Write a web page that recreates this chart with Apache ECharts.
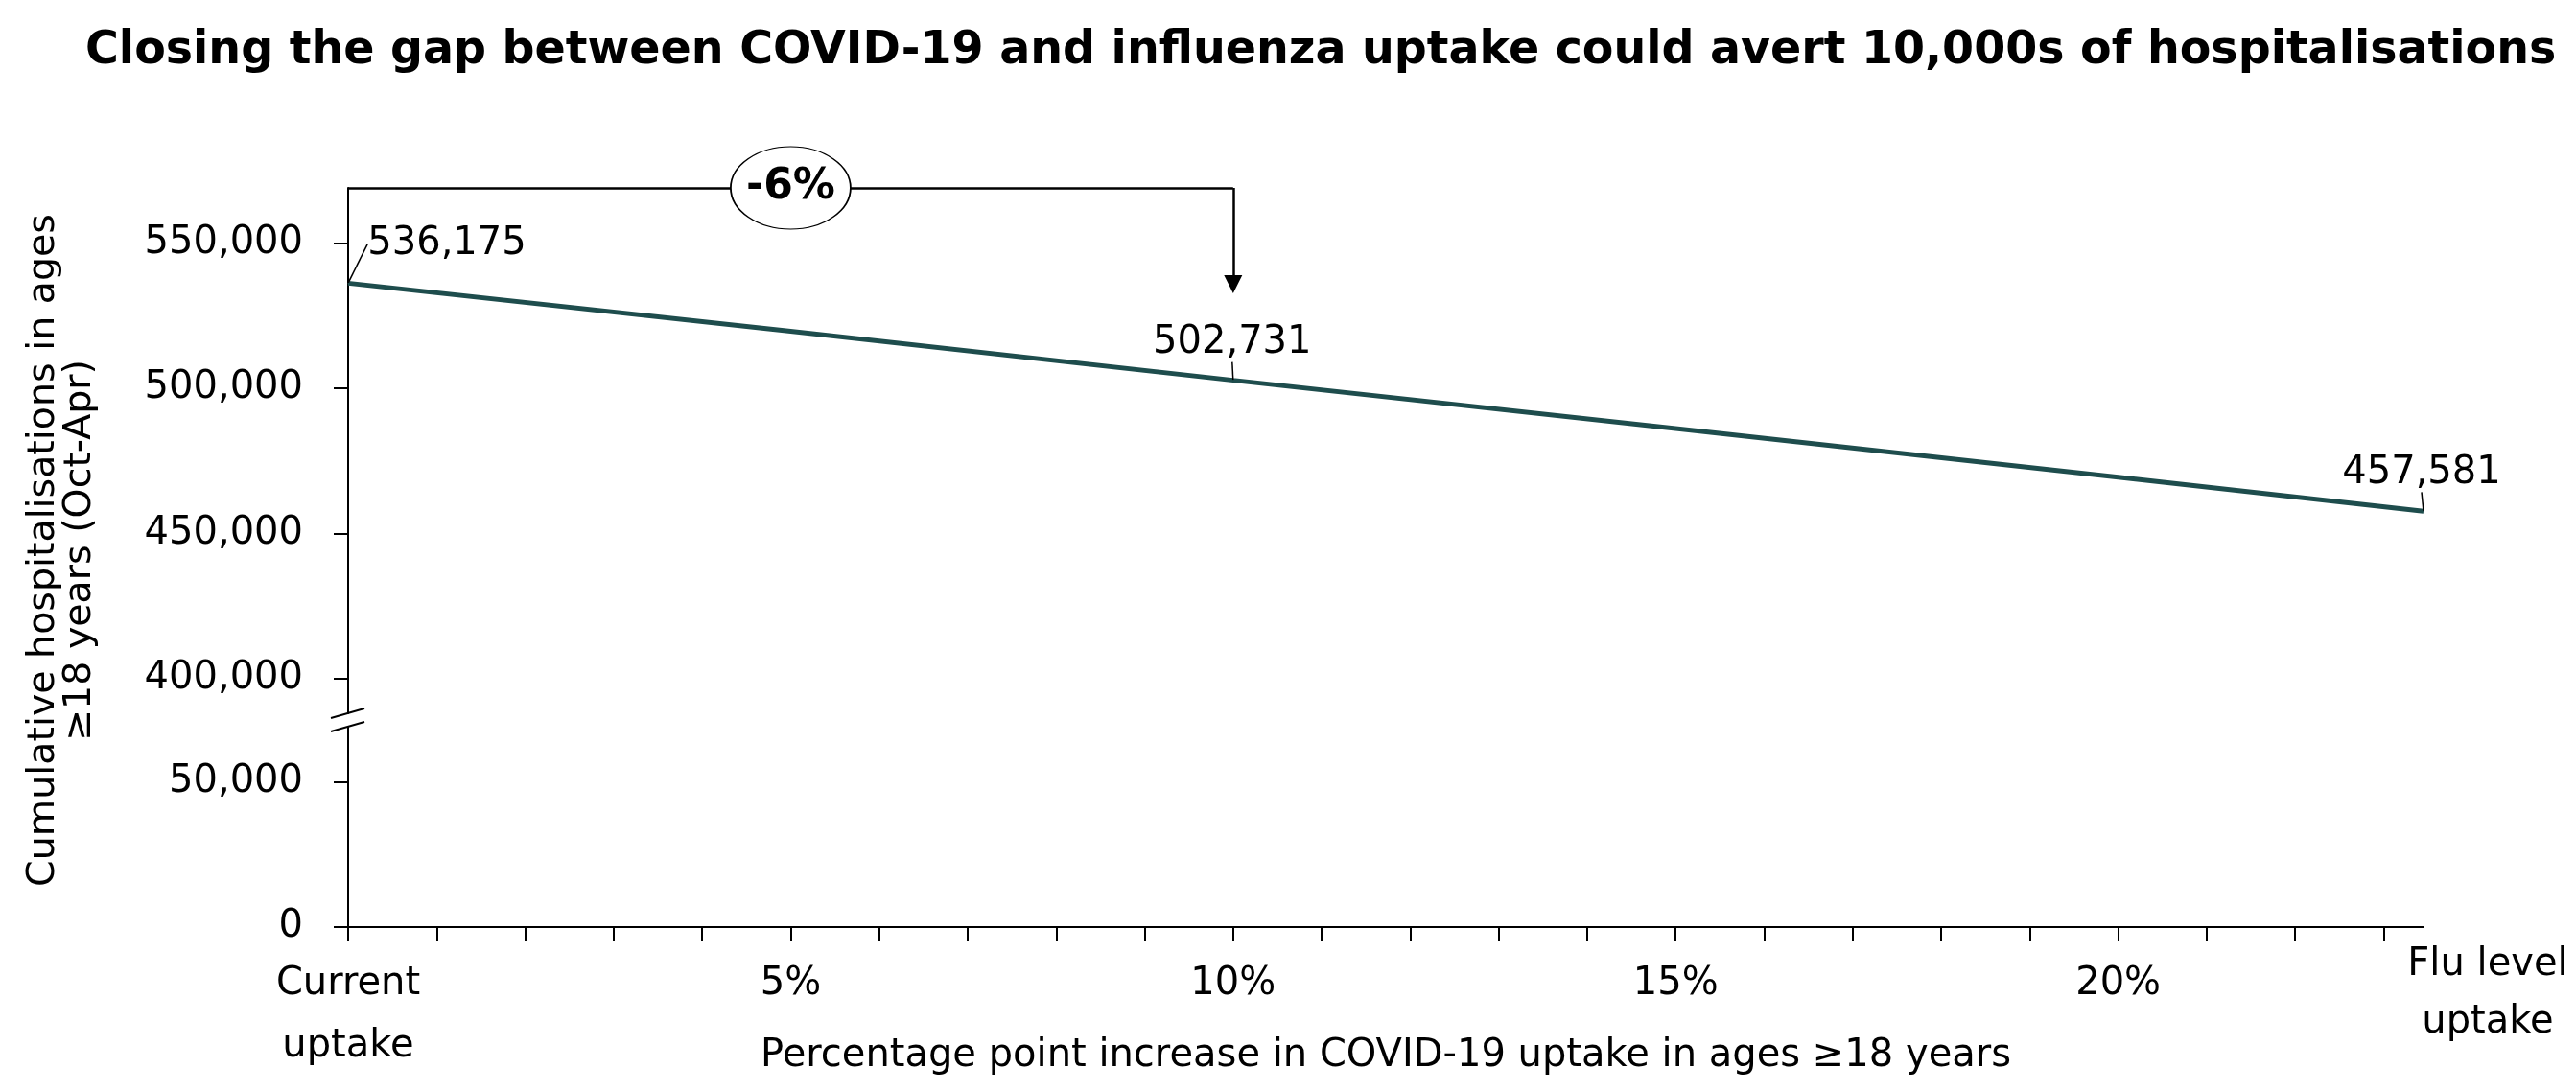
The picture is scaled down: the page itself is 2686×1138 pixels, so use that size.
<!DOCTYPE html>
<html><head><meta charset="utf-8">
<script src="https://cdn.jsdelivr.net/npm/echarts@6/dist/echarts.min.js"></script>
<style>html,body{margin:0;padding:0;background:#fff}#c{width:2686px;height:1138px}</style>
</head><body><div id="c"></div>
<script>
// ---- data ----
const titleText = 'Closing the gap between COVID-19 and influenza uptake could avert 10,000s of hospitalisations';
const yAxisTitle = ['Cumulative hospitalisations in ages', '\u226518 years (Oct-Apr)'];
const xAxisTitle = 'Percentage point increase in COVID-19 uptake in ages \u226518 years';
const uptakeIncrease = [0, 5, 10, 15, 20, 23.45];
const hospitalisations = [536175, 519600, 502731, 486100, 469300, 457581];
const labelledPoints = [0, 2, 5];
const xTickValues = [0,1,2,3,4,5,6,7,8,9,10,11,12,13,14,15,16,17,18,19,20,21,22,23];
const xLabelValues = [0, 5, 10, 15, 20];
const fluUptakeValue = 23.45;
const currentLabel = ['Current', 'uptake'];
const fluLabel = ['Flu level', 'uptake'];
const upperYTicks = [400000, 450000, 500000, 550000];
const lowerYTicks = [0, 50000];
const upperRange = [388000, 569000];
const lowerRange = [0, 69000];
const changeLabel = '-6%';
const bracketFrom = 0, bracketTo = 10, bracketMid = 5;
const arrowEndValue = 535800;

// ---- styles ----
const FONT = '"DejaVu Sans", sans-serif';
const LINE_COLOR = '#1e4d4d';
const GRID_LEFT = 363, GRID_RIGHT = 159;
const UP_TOP = 196, UP_H = 548, LO_TOP = 758, LO_H = 209;
const fmt = v => Math.round(v).toLocaleString('en-US');
const labelOffsets = {0: [103, -41], 2: [-1, -39], 5: [-2, -40]};

const chart = echarts.init(document.getElementById('c'), null, {renderer: 'canvas'});
const axisLineStyle = {color: '#000', width: 2};

chart.setOption({
  animation: false,
  backgroundColor: '#fff',
  title: {
    text: titleText, left: 89, top: 30, padding: 0,
    textStyle: {fontFamily: FONT, fontWeight: 'bold', fontSize: 47.5, color: '#000'}
  },
  grid: [
    {left: GRID_LEFT, right: GRID_RIGHT, top: UP_TOP, height: UP_H, outerBoundsMode: 'none', containLabel: false},
    {left: GRID_LEFT, right: GRID_RIGHT, top: LO_TOP, height: LO_H, outerBoundsMode: 'none', containLabel: false}
  ],
  xAxis: [
    {type: 'value', gridIndex: 0, min: 0, max: fluUptakeValue, show: false},
    {
      type: 'value', gridIndex: 1, position: 'bottom', min: 0, max: fluUptakeValue,
      splitLine: {show: false},
      axisLine: {show: true, onZero: false, lineStyle: axisLineStyle},
      axisTick: {show: true, length: 15, lineStyle: axisLineStyle, customValues: xTickValues},
      axisLabel: {
        customValues: xLabelValues, margin: 27, fontSize: 40, lineHeight: 65,
        fontFamily: FONT, color: '#000',
        formatter: v => v === 0 ? currentLabel.join('\n') : v + '%'
      },
      name: xAxisTitle, nameLocation: 'middle', nameGap: 115, nameMoveOverlap: false,
      nameTextStyle: {fontSize: 40, fontFamily: FONT, color: '#000'}
    },
    {
      type: 'value', gridIndex: 1, position: 'bottom', min: 0, max: fluUptakeValue,
      splitLine: {show: false}, axisLine: {show: false, onZero: false}, axisTick: {show: false},
      axisLabel: {
        customValues: [fluUptakeValue], margin: 10, fontFamily: FONT, color: '#000',
        formatter: () => fluLabel.map(s => '{f|' + s + '}').join('\n'),
        rich: {f: {fontSize: 40, lineHeight: 60, fontFamily: FONT, color: '#000', padding: [0, 0, 0, 134]}}
      }
    }
  ],
  yAxis: [
    {
      type: 'value', gridIndex: 0, min: upperRange[0], max: upperRange[1],
      splitLine: {show: false},
      axisLine: {show: true, onZero: false, lineStyle: axisLineStyle},
      axisTick: {show: true, length: 15, lineStyle: axisLineStyle, customValues: upperYTicks},
      axisLabel: {customValues: upperYTicks, margin: 47, fontSize: 40, fontFamily: FONT, color: '#000', formatter: fmt}
    },
    {
      type: 'value', gridIndex: 1, min: lowerRange[0], max: lowerRange[1],
      splitLine: {show: false},
      axisLine: {show: true, onZero: false, lineStyle: axisLineStyle},
      axisTick: {show: true, length: 15, lineStyle: axisLineStyle, customValues: lowerYTicks},
      axisLabel: {customValues: lowerYTicks, margin: 47, fontSize: 40, fontFamily: FONT, color: '#000', formatter: fmt}
    }
  ],
  graphic: [
    {
      type: 'text', x: 65, y: 574, rotation: Math.PI / 2,
      style: {text: yAxisTitle.join('\n'), fontSize: 39.5, fontFamily: FONT, fill: '#000',
              align: 'center', verticalAlign: 'middle', lineHeight: 38}
    },
    {type: 'line', shape: {x1: 345, y1: 749, x2: 380, y2: 739}, style: {stroke: '#000', lineWidth: 2}},
    {type: 'line', shape: {x1: 345, y1: 763, x2: 380, y2: 753}, style: {stroke: '#000', lineWidth: 2}}
  ],
  series: [
    {
      type: 'line', xAxisIndex: 0, yAxisIndex: 0, clip: false,
      data: uptakeIncrease.map((x, i) => ({value: [x, hospitalisations[i]], label: {show: labelledPoints.includes(i)}})),
      symbol: 'circle', symbolSize: 1, showSymbol: true,
      lineStyle: {color: LINE_COLOR, width: 5},
      itemStyle: {color: LINE_COLOR},
      label: {show: false, position: 'top', distance: 0, fontSize: 40, fontFamily: FONT, color: '#000',
              formatter: p => fmt(p.value[1])},
      labelLine: {show: true, lineStyle: {color: '#000', width: 1.5}},
      labelLayout: function (p) {
        const off = labelOffsets[p.dataIndex];
        if (!off) return {};
        const cx = p.rect.x + p.rect.width / 2, cy = p.rect.y + p.rect.height / 2;
        const lx = p.labelRect.x + p.labelRect.width / 2, ly = p.labelRect.y + p.labelRect.height / 2;
        return {dx: cx + off[0] - lx, dy: cy + off[1] - ly};
      },
      emphasis: {disabled: true},
      markLine: {
        silent: true, animation: false, symbol: ['none', 'none'],
        lineStyle: {color: '#000', width: 2.5, type: 'solid'},
        label: {show: false},
        emphasis: {disabled: true},
        data: [
          [{coord: [bracketFrom, upperRange[1]]}, {coord: [bracketTo, upperRange[1]]}],
          [{coord: [bracketTo, upperRange[1]]}, {coord: [bracketTo, arrowEndValue], symbol: 'triangle', symbolSize: [19, 19]}]
        ]
      }
    },
    {
      type: 'scatter', xAxisIndex: 0, yAxisIndex: 0, clip: false, z: 5, silent: true,
      data: [[bracketMid, upperRange[1]]],
      symbol: 'circle', symbolSize: [125, 86],
      itemStyle: {color: '#fff', borderColor: '#000', borderWidth: 1.5, opacity: 1},
      label: {show: true, position: 'inside', formatter: changeLabel, fontWeight: 'bold',
              fontSize: 44, fontFamily: FONT, color: '#000'},
      emphasis: {disabled: true}
    }
  ]
});
</script></body></html>
